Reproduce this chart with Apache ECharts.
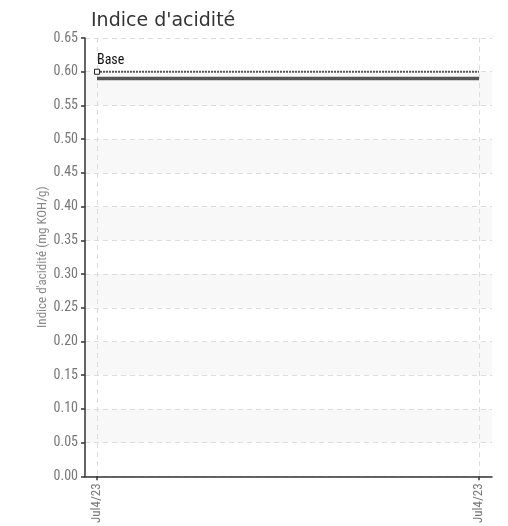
<!DOCTYPE html>
<html><head><meta charset="utf-8">
<script src="https://cdn.jsdelivr.net/npm/echarts@6/dist/echarts.min.js"></script>
<style>html,body{margin:0;padding:0;background:#fff}#c{width:508px;height:526px}</style>
</head><body><div id="c"></div>
<script>
const categories = ['Jul4/23', 'Jul4/23'];
const baseValues = [0.60, 0.60];
const measuredValues = [0.59, 0.59];
const yTicks = [0, 0.05, 0.10, 0.15, 0.20, 0.25, 0.30, 0.35, 0.40, 0.45, 0.50, 0.55, 0.60, 0.65];

const narrow = '"Liberation Sans Narrow", "Roboto Condensed", "Arial Narrow", sans-serif';
const chart = echarts.init(document.getElementById('c'), null, {renderer: 'canvas'});
chart.setOption({
  animation: false,
  title: {
    text: "Indice d'acidité", left: 86, top: 7,
    textStyle: {fontFamily: 'DejaVu Sans', fontSize: 19, fontWeight: 'normal', color: '#333'}
  },
  grid: {left: 85, right: 16, top: 38, bottom: 47, containLabel: false},
  xAxis: {
    type: 'value', min: -0.0314, max: 1.034,
    axisLine: {show: true, onZero: false, lineStyle: {color: '#333', width: 1.5}},
    axisTick: {show: true, customValues: [0, 1], length: 4, inside: false, lineStyle: {color: '#333', width: 1.5}},
    axisLabel: {
      customValues: [0, 1], rotate: 90, color: '#777', fontFamily: narrow, fontSize: 13, margin: 7,
      formatter: v => categories[Math.round(v)]
    },
    splitLine: {show: true, lineStyle: {type: [5, 4], color: '#ddd'}}
  },
  yAxis: {
    type: 'value', min: 0, max: 0.65, interval: 0.05,
    name: 'Indice d\'acidité (mg KOH/g)', nameLocation: 'middle', nameGap: 36, nameRotate: 90,
    nameMoveOverlap: false,
    nameTextStyle: {color: '#888', fontFamily: narrow, fontSize: 13},
    axisLine: {show: true, onZero: false, lineStyle: {color: '#333', width: 1.5}},
    axisTick: {show: true, length: 4, lineStyle: {color: '#333', width: 1.5}},
    axisLabel: {color: '#777', fontFamily: narrow, fontSize: 14, margin: 7,
      formatter: v => yTicks.reduce((a, t) => Math.abs(t - v) < 1e-6 ? t.toFixed(2) : a, v.toFixed(2))},
    splitLine: {show: true, lineStyle: {type: [5, 4], color: '#ddd'}},
    splitArea: {show: true, areaStyle: {color: ['#ffffff', '#f8f8f8']}}
  },
  series: [
    {
      name: 'Base', type: 'line',
      data: baseValues.map((v, i) => ({value: [i, v], symbol: i === 0 ? 'rect' : 'none'})),
      lineStyle: {color: '#555', width: 2, type: [2, 1]},
      symbol: 'rect', symbolSize: 5,
      itemStyle: {color: '#fff', borderColor: '#222', borderWidth: 1},
      showSymbol: true,
      z: 3,
      label: {
        show: true, position: 'top', align: 'left', distance: 1, offset: [0, 0],
        color: '#111', fontFamily: narrow, fontSize: 14,
        formatter: p => p.dataIndex === 0 ? 'Base' : ''
      },
      emphasis: {disabled: true}
    },
    {
      name: 'Mesure', type: 'line',
      data: measuredValues.map((v, i) => [i, v]),
      lineStyle: {color: '#555', width: 3.5},
      symbol: 'none', z: 2,
      emphasis: {disabled: true}
    }
  ]
});
</script></body></html>
